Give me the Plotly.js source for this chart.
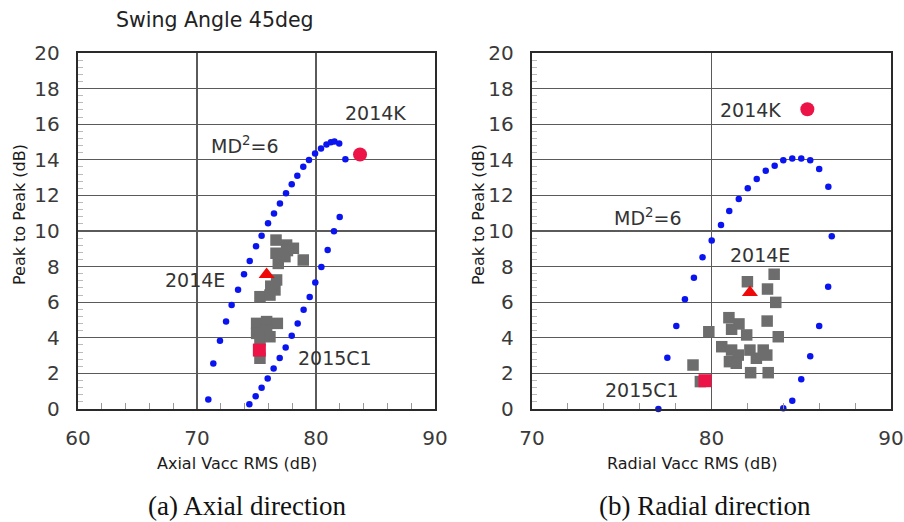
<!DOCTYPE html>
<html>
<head>
<meta charset="utf-8">
<script src="https://cdn.plot.ly/plotly-3.0.1.min.js"></script>
<style>html,body{margin:0;padding:0;background:#fff;}#chart{width:904px;height:522px;}</style>
</head>
<body>
<div id="chart"></div>
<script>
// ---- (a) Axial direction ----
const axialMdX = [70.95, 71.37, 71.93, 72.44, 72.91, 73.45, 73.95, 74.43, 74.96, 75.43, 75.97, 76.47, 76.97, 77.48, 77.96, 78.43, 78.93, 79.41, 79.92, 80.42, 80.88, 81.25, 81.55, 81.95, 82.47, 81.99, 81.51, 80.98, 80.45, 79.94, 79.47, 78.96, 78.46, 77.96, 77.45, 76.95, 76.44, 75.94, 75.43, 74.93, 74.40];
const axialMdY = [0.54, 2.55, 3.84, 4.91, 5.84, 6.70, 7.57, 8.31, 9.14, 9.74, 10.43, 10.99, 11.55, 12.12, 12.62, 13.11, 13.61, 13.99, 14.36, 14.64, 14.86, 14.98, 15.03, 14.92, 14.03, 10.79, 9.98, 8.93, 7.98, 7.10, 6.29, 5.58, 4.81, 4.12, 3.46, 2.87, 2.27, 1.72, 1.20, 0.71, 0.26];
const axialGrayX = [76.64, 77.53, 78.10, 76.64, 77.39, 78.93, 76.83, 77.60, 76.69, 76.55, 75.29, 76.13, 76.20, 75.01, 75.85, 76.75, 75.01, 75.85, 75.29, 76.13, 75.29];
const axialGrayY = [9.49, 9.21, 9.03, 8.75, 8.56, 8.37, 8.18, 8.90, 7.25, 6.69, 6.31, 6.40, 6.90, 4.81, 4.91, 4.81, 4.25, 4.40, 3.88, 4.06, 2.85];
const axialK = [83.7, 14.3];
const axialE = [75.85, 7.55];
const axialC1 = [75.24, 3.31];

// ---- (b) Radial direction ----
const radialMdX = [77.04, 77.54, 78.04, 78.52, 79.02, 79.50, 80.01, 80.53, 80.99, 81.52, 82.02, 82.52, 83.02, 83.52, 84.00, 84.50, 85.00, 85.50, 86.00, 86.51, 86.70, 86.50, 86.00, 85.50, 85.00, 84.50, 84.00];
const radialMdY = [0.00, 2.88, 4.66, 6.16, 7.38, 8.52, 9.46, 10.34, 11.12, 11.80, 12.40, 12.92, 13.39, 13.67, 13.97, 14.08, 14.08, 13.97, 13.48, 12.49, 9.70, 6.87, 4.66, 2.96, 1.67, 0.46, 0.04];
const radialGrayX = [82.00, 83.49, 83.12, 83.58, 80.97, 81.53, 83.10, 79.85, 81.12, 81.96, 83.72, 80.57, 81.12, 81.49, 82.14, 82.88, 83.08, 81.00, 81.38, 82.50, 78.97, 82.18, 83.16, 79.38];
const radialGrayY = [7.15, 7.57, 6.74, 5.99, 5.13, 4.78, 4.94, 4.34, 4.48, 4.16, 4.06, 3.50, 3.31, 3.03, 3.31, 3.31, 3.03, 2.66, 2.57, 2.85, 2.47, 2.04, 2.04, 1.54];
const radialK = [85.34, 16.84];
const radialE = [82.14, 6.54];
const radialC1 = [79.64, 1.59];

const FONT = '"DejaVu Sans", sans-serif';
const SERIF = '"Liberation Serif", "DejaVu Serif", serif';
const BLUE = '#0a14f0', GRAY = '#6d6d6d', PINK = '#ec1347', RED = '#ee0a0a';

function traces(mdX, mdY, gX, gY, K, E, C1, xa, ya) {
  return [
    {x: mdX, y: mdY, xaxis: xa, yaxis: ya, type: 'scatter', mode: 'markers', cliponaxis: false,
     marker: {color: BLUE, size: 6.5}},
    {x: gX, y: gY, xaxis: xa, yaxis: ya, type: 'scatter', mode: 'markers', cliponaxis: false,
     marker: {color: GRAY, size: 11.5, symbol: 'square'}},
    {x: [K[0]], y: [K[1]], xaxis: xa, yaxis: ya, type: 'scatter', mode: 'markers', cliponaxis: false,
     marker: {color: PINK, size: 14, symbol: 'circle'}},
    {x: [E[0]], y: [E[1]], xaxis: xa, yaxis: ya, type: 'scatter', mode: 'markers', cliponaxis: false,
     marker: {color: RED, size: 14, symbol: 'triangle-up'}},
    {x: [C1[0]], y: [C1[1]], xaxis: xa, yaxis: ya, type: 'scatter', mode: 'markers', cliponaxis: false,
     marker: {color: PINK, size: 13, symbol: 'square'}}
  ];
}

const data = [].concat(
  traces(axialMdX, axialMdY, axialGrayX, axialGrayY, axialK, axialE, axialC1, 'x', 'y'),
  traces(radialMdX, radialMdY, radialGrayX, radialGrayY, radialK, radialE, radialC1, 'x2', 'y2')
);

function xAxis(domain, range, anchor) {
  return {
    domain: domain, range: range, anchor: anchor, dtick: 10, tick0: 0,
    showgrid: true, gridcolor: '#5a5a5a', gridwidth: 1.3, zeroline: false,
    showline: true, mirror: true, linecolor: '#2a2a2a', linewidth: 2.2,
    ticks: '', ticklabelstandoff: 10, tickfont: {family: FONT, size: 20, color: '#3a3a3a'},
    minor: {dtick: 2, ticks: 'inside', ticklen: 6, tickcolor: '#999', tickwidth: 1, showgrid: false},
    fixedrange: true
  };
}
function yAxis(domain, anchor) {
  return {
    domain: domain, range: [0, 20], anchor: anchor, dtick: 2, tick0: 0,
    showgrid: true, gridcolor: '#5a5a5a', gridwidth: 1.3, zeroline: false,
    showline: true, mirror: true, linecolor: '#2a2a2a', linewidth: 2.2,
    ticks: '', ticklabelstandoff: 12, tickfont: {family: FONT, size: 20, color: '#3a3a3a'},
    minor: {dtick: 0.4, ticks: 'inside', ticklen: 5, tickcolor: '#bbb', tickwidth: 1, showgrid: false},
    fixedrange: true
  };
}

const W = 904, H = 522;
const yDom = [(H - 409) / H, (H - 53) / H];
const LBL = {family: FONT, size: 19, color: '#333'};
const TTL = {family: FONT, size: 16, color: '#1a1a1a'};
const CAP = {family: SERIF, size: 27, color: '#111'};
const ann = (text, x, y, xref, yref, font, extra) => Object.assign({
  text: text, x: x, y: y, xref: xref, yref: yref, showarrow: false,
  xanchor: 'center', yanchor: 'middle', font: font || LBL
}, extra || {});
const px = (x) => x / W, py = (y) => 1 - y / H;

const layout = {
  width: W, height: H, margin: {l: 0, r: 0, t: 0, b: 0},
  paper_bgcolor: '#fff', plot_bgcolor: '#fff', showlegend: false,
  xaxis: xAxis([78 / W, 435 / W], [60, 90], 'y'),
  yaxis: yAxis(yDom, 'x'),
  xaxis2: xAxis([532 / W, 891 / W], [70, 90], 'y2'),
  yaxis2: yAxis(yDom, 'x2'),
  annotations: [
    ann('Swing Angle 45deg', px(215), py(20), 'paper', 'paper', {family: FONT, size: 20.5, color: '#222'}),
    // axis titles
    ann('Axial Vacc RMS (dB)', px(155), py(463), 'paper', 'paper', TTL, {xanchor: 'left'}),
    ann('Radial Vacc RMS (dB)', px(605), py(463), 'paper', 'paper', TTL, {xanchor: 'left'}),
    ann('Peak to Peak (dB)', px(20), py(215), 'paper', 'paper', TTL, {textangle: -90}),
    ann('Peak to Peak (dB)', px(479), py(215), 'paper', 'paper', TTL, {textangle: -90}),
    // point labels
    ann('2014K', 84.96, 16.65, 'x', 'y'),
    ann('MD<sup>2</sup>=6', 74.03, 14.85, 'x', 'y'),
    ann('2014E', 69.8, 7.25, 'x', 'y'),
    ann('2015C1', 81.6, 2.87, 'x', 'y'),
    ann('2014K', 82.15, 16.8, 'x2', 'y2'),
    ann('MD<sup>2</sup>=6', 76.46, 10.8, 'x2', 'y2'),
    ann('2014E', 82.7, 8.65, 'x2', 'y2'),
    ann('2015C1', 76.13, 1.07, 'x2', 'y2'),
    // captions
    ann('(a) Axial direction', px(247), py(506), 'paper', 'paper', CAP),
    ann('(b) Radial direction', px(705), py(506), 'paper', 'paper', CAP)
  ]
};

Plotly.newPlot('chart', data, layout, {displayModeBar: false, staticPlot: true});
</script>
</body>
</html>
